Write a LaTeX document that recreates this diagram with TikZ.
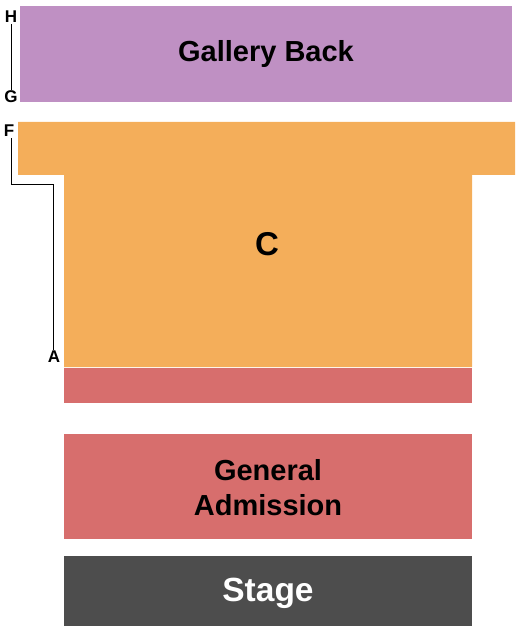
\documentclass[tikz,border=0pt]{standalone}
\usepackage{fontspec}
\setmainfont{Liberation Sans}
\usetikzlibrary{positioning,calc}

\definecolor{gallerycol}{HTML}{BF90C3}
\definecolor{seatcol}{HTML}{F4AE5A}
\definecolor{gacol}{HTML}{D76E6D}
\definecolor{stagecol}{HTML}{4D4D4D}

\begin{document}
\begin{tikzpicture}[
  x = 1pt,
  y = -1pt,
  section/.style = {draw=none, inner sep=0pt, font=\bfseries\fontsize{29}{35}\selectfont, align=center},
  rowlabel/.style = {inner sep=1pt, font=\bfseries\fontsize{17}{17}\selectfont},
  ]
  \useasboundingbox (0,0) rectangle (525,631);

  \node[section, fill=gallerycol, minimum width=492, minimum height=96] (gallery) at (266,54) {Gallery Back};

  \fill[seatcol] (18,122) -- (515,122) -- (515,175) -- (472,175) -- (472,367)
    -- (64,367) -- (64,175) -- (18,175) -- cycle;
  \node[section, font=\bfseries\fontsize{33}{33}\selectfont] (c) at (267,244) {C};

  \node[section, fill=gacol, minimum width=408, minimum height=35] (pit) at (268,385.5) {};
  \node[section, fill=gacol, minimum width=408, minimum height=105] (ga) at (268,486.5) {};
  \node[section] (galabel) at (268,488) {General\\Admission};
  \node[section, fill=stagecol, minimum width=408, minimum height=70] (stage) at (268,591) {};
  \node[section, text=white, font=\bfseries\fontsize{33.5}{33.5}\selectfont] (stagelabel) at (268,593) {Stage};

  \node[rowlabel] (H) at (11,17) {H};
  \node[rowlabel] (G) at (11,97) {G};
  \node[rowlabel] (F) at (9,131) {F};
  \node[rowlabel] (A) at (54,357) {A};
  \coordinate (bend) at (53,184);

  \draw[line width=1pt] (H.south) -- (G.north);
  \draw[line width=1pt] (F.south -| H.south) |- (bend) -- (bend |- A.north);
\end{tikzpicture}
\end{document}
